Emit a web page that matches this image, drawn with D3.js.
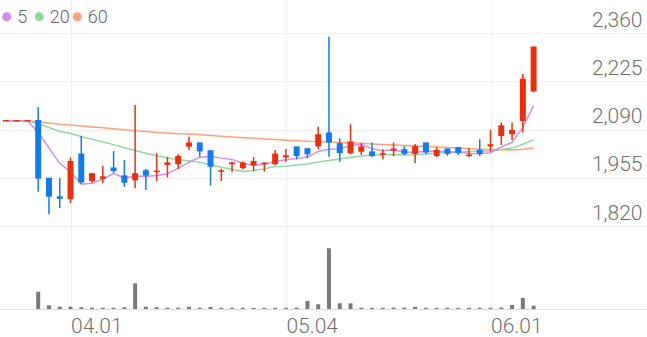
<!DOCTYPE html>
<html>
<head>
<meta charset="utf-8">
<script src="https://cdn.jsdelivr.net/npm/d3@7"></script>
<style>
  html, body { margin: 0; padding: 0; background: #fff; }
  svg { display: block; font-family: Roboto, "Noto Sans", sans-serif; }
</style>
</head>
<body>
<div id="chart"></div>
<script>
// trading days (MM.DD), first three are a halt at the previous price
const dates = ["03.24","03.25","03.26","03.27","03.30","03.31","04.01","04.02","04.03","04.06",
  "04.07","04.08","04.09","04.10","04.13","04.14","04.16","04.17","04.20","04.21",
  "04.22","04.23","04.24","04.27","04.28","04.29","05.04","05.06","05.07","05.08",
  "05.11","05.12","05.13","05.14","05.15","05.18","05.19","05.20","05.21","05.22",
  "05.25","05.26","05.27","05.28","05.29","06.01","06.02","06.03","06.04","06.05"];

const opens  = [2115,2115,2115,2115,1953,1901,1893,2021,1944,1950,1982,1960,1946,1974,1970,1989,1991,2040,2052,2030,
  1971,1991,1980,1988,1993,1991,2010,2041,2036,2041,2080,2050,2022,2026,2027,2018,2029,2033,2020,2052,
  2014,2035,2039,2014,2031,2041,2070,2075,2112,2195];
const highs  = [2115,2115,2115,2153,1955,1954,2012,2073,1968,1989,2030,2005,2159,1980,2024,2014,2021,2070,2054,2033,
  1980,2000,2001,2013,1997,2033,2036,2042,2037,2098,2350,2066,2105,2052,2054,2035,2054,2044,2050,2054,
  2041,2037,2040,2038,2063,2089,2110,2110,2246,2321];
const lows   = [2115,2115,2115,1916,1853,1870,1884,1938,1942,1940,1968,1930,1926,1921,1946,1956,1980,2033,2014,1933,
  1946,1971,1978,1974,1972,1990,2000,2007,2010,2035,2014,2000,2021,2019,2013,2007,2016,2019,1996,2022,
  2013,2017,2019,2013,2016,2028,2047,2061,2082,2195];
const closes = [2115,2115,2115,1951,1900,1894,2000,1940,1966,1957,1972,1939,1966,1959,1973,1996,2014,2052,2027,1984,
  1974,1996,1996,2000,1996,2021,2016,2014,2019,2075,2052,2022,2055,2041,2014,2022,2035,2020,2042,2024,
  2031,2020,2022,2018,2020,2047,2100,2087,2231,2321];
const volumes = [0,0,0,173,37,23,23,17,13,13,13,17,257,23,17,13,13,23,13,20,
  12,12,12,11,12,12,12,13,80,47,607,57,57,13,12,12,14,14,23,12,
  12,12,12,12,12,12,15,40,110,33];

// close before the window (stock was halted there)
const priorClose = 2115;

const maPeriods = [5, 20, 60];
const priceTicks = [1820, 1955, 2090, 2225, 2360];
const dateTicks = ["04.01", "05.04", "06.01"];

function drawCandles() {

  // 1. Data
  const dataset = dates.map((d, i) => ({
    date: d, open: opens[i], high: highs[i], low: lows[i], close: closes[i], volume: volumes[i]
  }));

  const movingAverage = n => closes.map((c, i) => {
    let sum = 0;
    for (let j = i - n + 1; j <= i; j++) sum += j < 0 ? priorClose : closes[j];
    return sum / n;
  });

  // 2. Dimensions
  const dimensions = {
    width: 647,
    height: 337,
    plotRight: 539,
    priceTop: 33.3,
    priceBottom: 226,
    volumeTop: 239,
    volumeBottom: 309,
  };

  const colors = {
    up: "#e8300f",
    down: "#1479ea",
    volume: "#7a7a7a",
    grid: "#efefef",
    base: "#dedede",
    text: "#707070",
    ma: ["#d58cf0", "#8ed99b", "#ffa07a"]
  };

  // 3. Canvas
  const wrapper = d3.select("#chart")
    .append("svg")
      .attr("width", dimensions.width)
      .attr("height", dimensions.height);

  // 4. Scales
  const xScale = d3.scaleBand()
    .domain(dates)
    .range([0.5, dimensions.plotRight])
    .padding(0);
  const xCenter = d => xScale(d) + xScale.bandwidth() / 2;

  const yScale = d3.scaleLinear()
    .domain([1820, 2360])
    .range([dimensions.priceBottom, dimensions.priceTop]);

  const volumeScale = d3.scaleLinear()
    .domain([0, 700])
    .range([dimensions.volumeBottom, dimensions.volumeTop]);

  // 5. Grid
  const grid = wrapper.append("g");
  grid.selectAll(".hgrid")
    .data(priceTicks)
    .join("line")
      .attr("x1", 0)
      .attr("x2", dimensions.width)
      .attr("y1", d => Math.round(yScale(d)) + 0.5)
      .attr("y2", d => Math.round(yScale(d)) + 0.5)
      .attr("stroke", colors.grid);

  grid.selectAll(".vgrid")
    .data(dateTicks)
    .join("line")
      .attr("x1", d => Math.round(xCenter(d)) + 0.5)
      .attr("x2", d => Math.round(xCenter(d)) + 0.5)
      .attr("y1", 0)
      .attr("y2", dimensions.volumeBottom)
      .attr("stroke", colors.grid);

  // 6. Volume bars
  wrapper.append("g")
    .selectAll("rect")
    .data(dataset.filter(d => d.volume > 0))
    .join("rect")
      .attr("x", d => xCenter(d.date) - 2)
      .attr("width", 4)
      .attr("y", d => volumeScale(d.volume))
      .attr("height", d => volumeScale(0) - volumeScale(d.volume))
      .attr("fill", colors.volume);

  wrapper.append("line")
    .attr("x1", 0)
    .attr("x2", dimensions.width)
    .attr("y1", dimensions.volumeBottom + 0.5)
    .attr("y2", dimensions.volumeBottom + 0.5)
    .attr("stroke", colors.base);

  // 7. Moving averages (drawn under the candles)
  const lineGenerator = d3.line()
    .x((d, i) => xCenter(dates[i]))
    .y(d => yScale(d));

  wrapper.append("g")
    .selectAll("path")
    .data(maPeriods.slice().reverse())
    .join("path")
      .attr("d", n => lineGenerator(movingAverage(n)))
      .attr("fill", "none")
      .attr("stroke", n => colors.ma[maPeriods.indexOf(n)])
      .attr("stroke-width", 1.5);

  // 8. Candles
  const candleColor = d => d.close >= d.open ? colors.up : colors.down;
  const candles = wrapper.append("g")
    .selectAll("g")
    .data(dataset)
    .join("g");

  candles.append("line")
    .attr("x1", d => xCenter(d.date))
    .attr("x2", d => xCenter(d.date))
    .attr("y1", d => yScale(d.high))
    .attr("y2", d => yScale(d.low))
    .attr("stroke", candleColor)
    .attr("stroke-width", 1.5);

  candles.append("rect")
    .attr("x", d => xCenter(d.date) - 3)
    .attr("width", 6)
    .attr("y", d => yScale(Math.max(d.open, d.close)) - 0.75)
    .attr("height", d => Math.max(1.5, Math.abs(yScale(d.open) - yScale(d.close))))
    .attr("fill", candleColor);

  // 9. Axis labels
  wrapper.append("g")
    .selectAll("text")
    .data(priceTicks)
    .join("text")
      .attr("x", 642.5)
      .attr("y", d => yScale(d) - 6.5)
      .attr("text-anchor", "end")
      .attr("font-size", 21)
      .attr("font-weight", 300)
      .attr("fill", colors.text)
      .text(d => d3.format(",")(d));

  wrapper.append("g")
    .selectAll("text")
    .data(dateTicks)
    .join("text")
      .attr("x", d => xCenter(d) + 0.5)
      .attr("y", 333)
      .attr("font-size", 21)
      .attr("font-weight", 300)
      .attr("fill", colors.text)
      .text(d => d);

  // 10. Legend
  const legendLeft = [2.2, 34.8, 72.8];
  const legend = wrapper.append("g")
    .selectAll("g")
    .data(maPeriods)
    .join("g")
      .attr("transform", (d, i) => `translate(${legendLeft[i]}, 0)`);

  legend.append("circle")
    .attr("cx", 4.5)
    .attr("cy", 16.7)
    .attr("r", 4.5)
    .attr("fill", (d, i) => colors.ma[i]);

  legend.append("text")
    .attr("x", 15)
    .attr("y", 23)
    .attr("font-size", 18)
    .attr("font-weight", 300)
    .attr("fill", "#666")
    .text(d => d);
}

drawCandles();
</script>
</body>
</html>
